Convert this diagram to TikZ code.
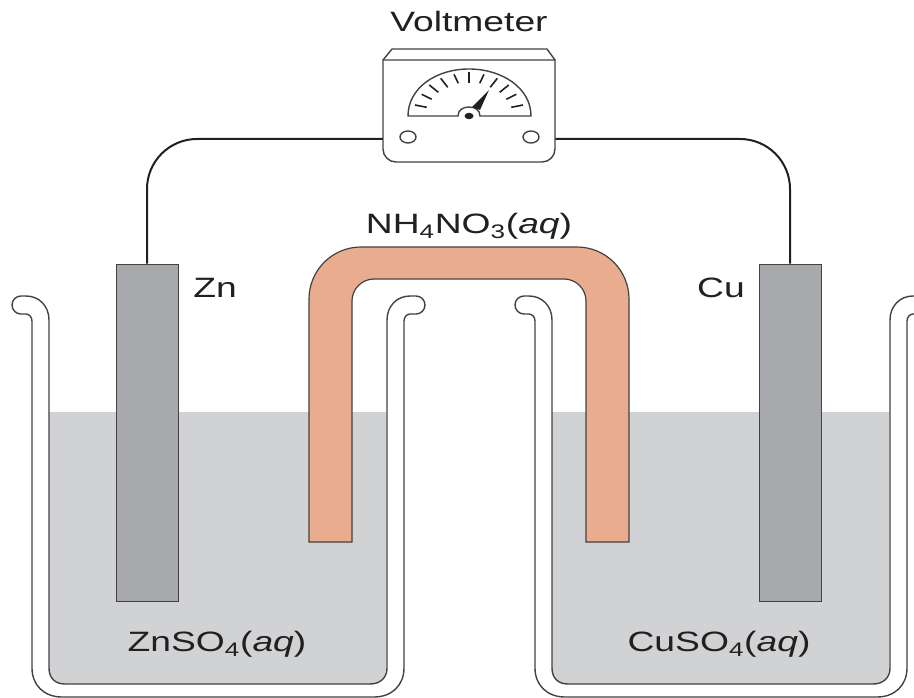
\documentclass[tikz,border=0pt]{standalone}
\usepackage{fontspec}
\setmainfont{Liberation Sans}
\definecolor{liquid}{HTML}{D1D2D4}
\definecolor{metal}{HTML}{A7A9AC}
\definecolor{salt}{HTML}{EAAC8F}
\definecolor{ink}{HTML}{231F20}
\tikzset{
  wall/.style={draw=ink!85,line width=1.4pt},
  wire/.style={draw=ink,line width=2pt},
  electrode/.style={rectangle,draw=ink!85,line width=1pt,fill=metal,minimum width=62pt,minimum height=337pt,inner sep=0pt},
  bridge/.style={draw=ink!85,line width=1.2pt,fill=salt},
  tickmark/.style={ink,line width=1.6pt},
  label/.style={text=ink,font=\fontsize{28}{32}\selectfont,inner sep=0pt,transform shape,xscale=1.33},
}
\begin{document}
\begin{tikzpicture}[x=1pt,y=-1pt]
    \path[use as bounding box,clip] (0,0) rectangle (914,698);
    % beakers with their liquid
    \foreach \bx in {0,503} {
      \begin{scope}[xshift=\bx pt]
        \fill[liquid] (49,412) -- (386,412) -- (386,668) .. controls (386,678) and (380,684) .. (370,684) -- (65,684) .. controls (55,684) and (49,678) .. (49,668) -- cycle;
        \draw[wall] (49,412) -- (49,320) .. controls (49,306) and (39,296) .. (26,296) -- (21,296)
          .. controls (16,296) and (12,300) .. (12,305) .. controls (12,310) and (16,314) .. (21,314) -- (26,314)
          .. controls (29,314) and (32,317) .. (32,321) -- (32,668) .. controls (32,685) and (44,697) .. (62,697)
          -- (374,697) .. controls (392,697) and (404,685) .. (404,668) -- (404,321)
          .. controls (404,317) and (407,314) .. (410,314) -- (416,314) .. controls (421,314) and (425,310) .. (425,305)
          .. controls (425,300) and (421,296) .. (416,296) -- (410,296) .. controls (397,296) and (387,306) .. (387,320)
          -- (387,668) .. controls (387,678) and (380,684) .. (370,684) -- (65,684)
          .. controls (55,684) and (49,678) .. (49,668) -- cycle;
      \end{scope}
    }
    % electrodes
    \node[electrode] (zn) at (147,432.5) {};
    \node[electrode] (cu) at (790,432.5) {};
    % salt bridge
    \draw[bridge] (309,542) [rounded corners=52] -- (309,247) -- (629,247) [sharp corners] -- (629,542) -- (586,542) [rounded corners=22] -- (586,279) -- (352,279) [sharp corners] -- (352,542) -- cycle;
    % voltmeter
    \coordinate (meterl) at (383,139);
    \coordinate (meterr) at (555,139);
    \draw[wire,rounded corners=50] (zn.north) |- (meterl);
    \draw[wire,rounded corners=50] (cu.north) |- (meterr);
    \draw[wall,line cap=round,line join=round] (383,60) -- (392,49) -- (547,49) -- (555,60);
    \draw[wall,fill=white,rounded corners=13] (383,60) [sharp corners] -- (555,60) [rounded corners=13] -- (555,162) -- (383,162) [sharp corners] -- cycle;
    \draw[wall] (408,116) .. controls (408,88) and (436,69) .. (469,69) .. controls (502,69) and (531,88) .. (531,116) -- (480,116)
      .. controls (480,110) and (475,107) .. (469,107) .. controls (463,107) and (458,110) .. (458,116) -- cycle;
    \foreach \ox/\oy/\ix/\iy in {54/105/42.3/107.3,47.3/94.3/37.3/99.3,39.7/85/30.7/92.3,28.3/78.3/21.3/87.3,15/74.3/10.7/83.3} {
      \draw[tickmark] (469-\ox,\oy) -- (469-\ix,\iy);
      \draw[tickmark] (469+\ox,\oy) -- (469+\ix,\iy);
    }
    \draw[tickmark] (469,72.3) -- (469,82.7);
    \fill[ink] (489,90) -- (472,107) -- (480,110) -- cycle;
    \fill[ink] (469,116) ellipse [x radius=4.5,y radius=3.2];
    \draw[wall] (408,137) ellipse [x radius=8,y radius=6];
    \draw[wall] (531,137) ellipse [x radius=8,y radius=6];
    % labels
    \node[label] (voltmeter) at (469,21) {Voltmeter};
    \node[label] (nitrate) at (469,226) {NH\textsubscript{4}NO\textsubscript{3}(\textit{aq})};
    \node[label] (znlabel) at (215,288) {Zn};
    \node[label] (culabel) at (721,288) {Cu};
    \node[label] (znsalt) at (217,644) {ZnSO\textsubscript{4}(\textit{aq})};
    \node[label] (cusalt) at (719,644) {CuSO\textsubscript{4}(\textit{aq})};
\end{tikzpicture}
\end{document}
